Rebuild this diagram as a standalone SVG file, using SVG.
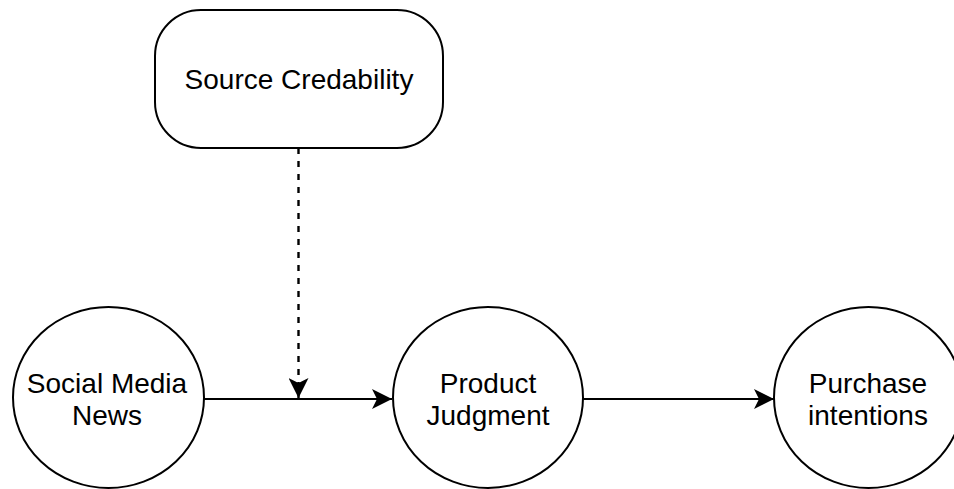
<svg xmlns="http://www.w3.org/2000/svg" width="954" height="489" viewBox="0 0 954 489">
  <style>
    .shape { fill: #ffffff; stroke: #000000; stroke-width: 2; }
    .lbl { font-family: "Liberation Sans", Arial, Helvetica, sans-serif; font-size: 28px; fill: #000000; text-anchor: middle; }
    .edge { fill: none; stroke: #000000; stroke-width: 2; }
    .dashed { stroke-dasharray: 6 7; stroke-width: 2.4; }
  </style>
  <defs>
    <marker id="arrow" markerUnits="userSpaceOnUse" viewBox="0 0 20 20" refX="20" refY="10" markerWidth="20" markerHeight="20" orient="auto">
      <path d="M0,0 L20,10 L0,20 L5,10 Z" fill="#000000" stroke="none"/>
    </marker>
  </defs>
  <rect width="954" height="489" fill="#ffffff"/>
  <g id="connectors">
    <line class="edge" x1="204" y1="399" x2="392" y2="399" marker-end="url(#arrow)"/>
    <line class="edge" x1="583" y1="399" x2="774" y2="399" marker-end="url(#arrow)"/>
    <line class="edge dashed" x1="298.5" y1="148" x2="298.5" y2="398" marker-end="url(#arrow)"/>
  </g>
  <g id="source-credability">
    <rect class="shape" x="155" y="10" width="288" height="138" rx="46" ry="46"/>
    <text class="lbl" x="299" y="89">Source Credability</text>
  </g>
  <g id="social-media-news">
    <ellipse class="shape" cx="108.5" cy="397.5" rx="95.5" ry="90.5"/>
    <text class="lbl" x="107" y="393">Social Media</text>
    <text class="lbl" x="107" y="425">News</text>
  </g>
  <g id="product-judgment">
    <ellipse class="shape" cx="488" cy="397.5" rx="95" ry="90.5"/>
    <text class="lbl" x="488" y="393">Product</text>
    <text class="lbl" x="488" y="425">Judgment</text>
  </g>
  <g id="purchase-intentions">
    <ellipse class="shape" cx="868.5" cy="397.5" rx="94.5" ry="90.5"/>
    <text class="lbl" x="868" y="393">Purchase</text>
    <text class="lbl" x="868" y="425">intentions</text>
  </g>
</svg>
